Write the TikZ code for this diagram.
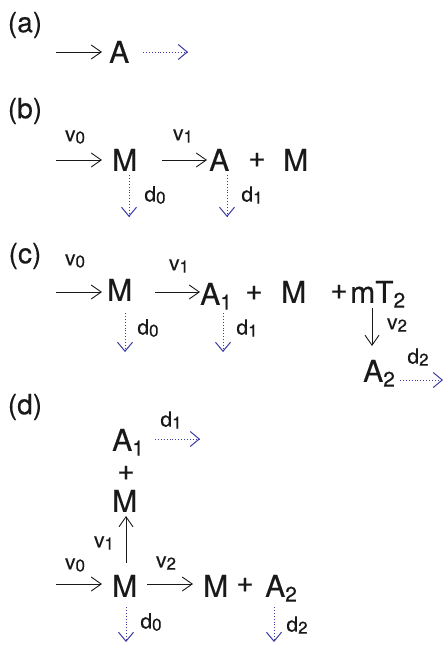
\documentclass[tikz,border=0pt]{standalone}
\usepackage{fontspec}
\setmainfont{TeX Gyre Heros}[FakeBold=0.4]
\usetikzlibrary{arrows.meta}
\definecolor{dblue}{RGB}{60,60,165}
\definecolor{ink}{RGB}{25,25,25}
\newcommand\sbs[1]{\raisebox{-0.16em}{\fontsize{21}{21}\selectfont #1}}
\newcommand\lsb[1]{\raisebox{-0.1em}{\fontsize{17}{17}\selectfont #1}}
\begin{document}
\begin{tikzpicture}[x=1pt,y=-1pt,
  lab/.style={font=\fontsize{28}{30}\selectfont, inner sep=0, text=ink},
  sp/.style={font=\fontsize{30}{32}\selectfont, inner sep=0, anchor=base west, text=ink},
  pl/.style={font=\fontsize{30}{32}\selectfont, inner sep=0, text=ink},
  rl/.style={font=\fontsize{21}{22}\selectfont, inner sep=0, text=ink},
  arr/.style={draw=ink, line width=0.8pt, -{Straight Barb[length=10pt,width=14pt,line width=0.9pt]}},
  darr/.style={draw=dblue, line width=0.9pt, dash pattern=on 0.9pt off 2pt, -{Straight Barb[length=9pt,width=15pt,line width=1pt]}}]
\useasboundingbox (0,0) rectangle (445,653);
% ---------- (a)
\node[lab] (la) at (25,25) {(a)};
\node[sp] (aA) at (109,62.8) {A};
\coordinate (a1) at (56,52); \coordinate (a2) at (102,52);
\coordinate (a3) at (143,52); \coordinate (a4) at (188,52);
\draw[arr] (a1) -- (a2);
\draw[darr] (a3) -- (a4);
% ---------- (b)
\node[lab] (lb) at (25,111) {(b)};
\node[sp] (bM) at (112,170.8) {M};
\node[sp] (bA) at (209,170.8) {A};
\node[pl] (bp) at (257,160) {+};
\node[sp] (bM2) at (283,170.8) {M};
\coordinate (b1) at (56,160); \coordinate (b2) at (102,160);
\coordinate (b3) at (162,160); \coordinate (b4) at (207,160);
\draw[arr] (b1) -- (b2);
\draw[arr] (b3) -- (b4);
\node[rl] (bv0) at (75,137) {v\lsb{0}};
\node[rl] (bv1) at (183,136) {v\lsb{1}};
\coordinate (b5) at (129,175); \coordinate (b6) at (129,217);
\coordinate (b7) at (227,175); \coordinate (b8) at (227,217);
\draw[darr] (b5) -- (b6);
\draw[darr] (b7) -- (b8);
\node[rl] (bd0) at (155,195) {d\lsb{0}};
\node[rl] (bd1) at (252,195) {d\lsb{1}};
% ---------- (c)
\node[lab] (lc) at (25,256) {(c)};
\node[sp] (cM) at (107,300.8) {M};
\node[sp] (cA1) at (200,304.8) {A\sbs{1}};
\node[pl] (cp1) at (254,293) {+};
\node[sp] (cM2) at (281,302.8) {M};
\node[pl] (cp2) at (339,292) {+};
\node[sp] (cmT) at (350,302.8) {mT\sbs{2}};
\node[sp] (cA2) at (363,381.8) {A\sbs{2}};
\coordinate (c1) at (56,292); \coordinate (c2) at (102,292);
\coordinate (c3) at (155,292); \coordinate (c4) at (200,292);
\draw[arr] (c1) -- (c2);
\draw[arr] (c3) -- (c4);
\node[rl] (cv0) at (75,261) {v\lsb{0}};
\node[rl] (cv1) at (179,266) {v\lsb{1}};
\coordinate (c5) at (125,313); \coordinate (c6) at (125,352);
\coordinate (c7) at (223,313); \coordinate (c8) at (223,352);
\draw[darr] (c5) -- (c6);
\draw[darr] (c7) -- (c8);
\node[rl] (cd0) at (148,328) {d\lsb{0}};
\node[rl] (cd1) at (247,328) {d\lsb{1}};
\coordinate (c9) at (372,308); \coordinate (c10) at (372,346);
\draw[arr] (c9) -- (c10);
\node[rl] (cv2) at (397,325) {v\lsb{2}};
\coordinate (c11) at (400,380); \coordinate (c12) at (443,380);
\draw[darr] (c11) -- (c12);
\node[rl] (cd2) at (418,357) {d\lsb{2}};
% ---------- (d)
\node[lab] (ld) at (25,407) {(d)};
\node[sp] (dA1) at (112,450.8) {A\sbs{1}};
\node[pl] (dp1) at (126,473) {+};
\node[sp] (dMu) at (112,511.8) {M};
\node[sp] (dM) at (112,596.8) {M};
\node[sp] (dM2) at (203,596.8) {M};
\node[pl] (dp2) at (245,585) {+};
\node[sp] (dA2) at (265,596.8) {A\sbs{2}};
\coordinate (d1) at (155,439); \coordinate (d2) at (200,439);
\draw[darr] (d1) -- (d2);
\node[rl] (dd1) at (171,420) {d\lsb{1}};
\coordinate (d3) at (126,563); \coordinate (d4) at (126,516);
\draw[arr] (d3) -- (d4);
\node[rl] (dv1) at (104,543) {v\lsb{1}};
\coordinate (d5) at (56,584); \coordinate (d6) at (102,584);
\draw[arr] (d5) -- (d6);
\node[rl] (dv0) at (75,565) {v\lsb{0}};
\coordinate (d7) at (147,584); \coordinate (d8) at (193,584);
\draw[arr] (d7) -- (d8);
\node[rl] (dv2) at (166,563) {v\lsb{2}};
\coordinate (d9) at (126,607); \coordinate (d10) at (126,642);
\coordinate (d11) at (274,607); \coordinate (d12) at (274,642);
\draw[darr] (d9) -- (d10);
\draw[darr] (d11) -- (d12);
\node[rl] (dd0) at (151,622) {d\lsb{0}};
\node[rl] (dd2) at (297,625) {d\lsb{2}};
\end{tikzpicture}
\end{document}
